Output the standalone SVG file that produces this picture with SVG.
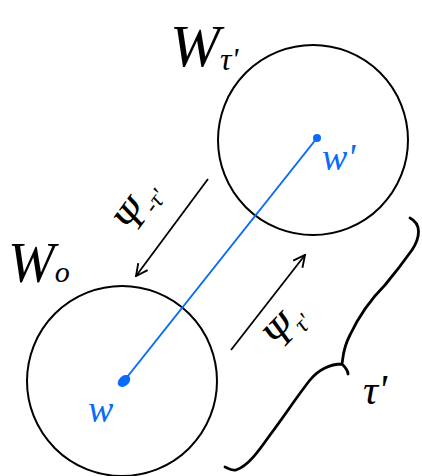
<svg xmlns="http://www.w3.org/2000/svg" width="422" height="476" viewBox="0 0 422 476">
<style>
.c{fill:none;stroke:#000;stroke-width:2}
.ink{fill:none;stroke:#000;stroke-width:2.8;stroke-linecap:round;stroke-linejoin:round}
.t{font-family:"Liberation Serif",serif;font-style:italic;fill:#000}
.b{font-family:"Liberation Serif",serif;font-style:italic;fill:#0a6cf5}
</style>
<defs>
<marker id="ah" viewBox="0 0 12 12" refX="11" refY="6" markerWidth="14" markerHeight="14" markerUnits="userSpaceOnUse" orient="auto">
<path d="M1,1 L11,6 L1,11" fill="none" stroke="#000" stroke-width="1.6"/>
</marker>
</defs>
<rect width="422" height="476" fill="#fff"/>
<g id="node-W-tau">
<circle class="c" cx="313" cy="140" r="95"/>
<text class="t" x="170" y="66" font-size="60">W<tspan font-size="32" dy="4">τ'</tspan></text>
</g>
<g id="node-W0">
<circle class="c" cx="122" cy="381" r="95"/>
<text class="t" x="8" y="282" font-size="56">W<tspan font-size="30" dy="0">o</tspan></text>
</g>
<g id="connectors">
<line x1="124" y1="381" x2="317" y2="138" stroke="#0a6cf5" stroke-width="2"/>
<ellipse cx="124" cy="381" rx="7" ry="5" transform="rotate(-40 124 381)" fill="#0a6cf5"/>
<circle cx="317" cy="138" r="4" fill="#0a6cf5"/>
<line x1="208" y1="179" x2="136" y2="276" stroke="#000" stroke-width="1.8" marker-end="url(#ah)"/>
<line x1="231" y1="350" x2="305" y2="255" stroke="#000" stroke-width="1.8" marker-end="url(#ah)"/>
<path class="ink" d="M410,218 C422,224 420,238 412,250 C402,264 395,273 385,285 C370,300 358,318 350,335 C343,348 343,358 342,364 C345,367 348,371 348,374 M342,364 C330,364 318,370 310,380 C298,395 285,415 270,435 C258,452 248,466 236,470 C232,471 228,468 225,467"/>
</g>
<g id="labels">
<text class="t" font-size="42" transform="translate(134,236) rotate(-54)">Ψ<tspan font-size="24" dy="4">-τ'</tspan></text>
<text class="t" font-size="42" transform="translate(280,352) rotate(-46)">Ψ<tspan font-size="24" dy="4">τ'</tspan></text>
<text class="t" x="363" y="404" font-size="42">τ'</text>
<text class="b" x="88" y="422" font-size="38">w</text>
<text class="b" x="322" y="170" font-size="38">w'</text>
</g>
</svg>
